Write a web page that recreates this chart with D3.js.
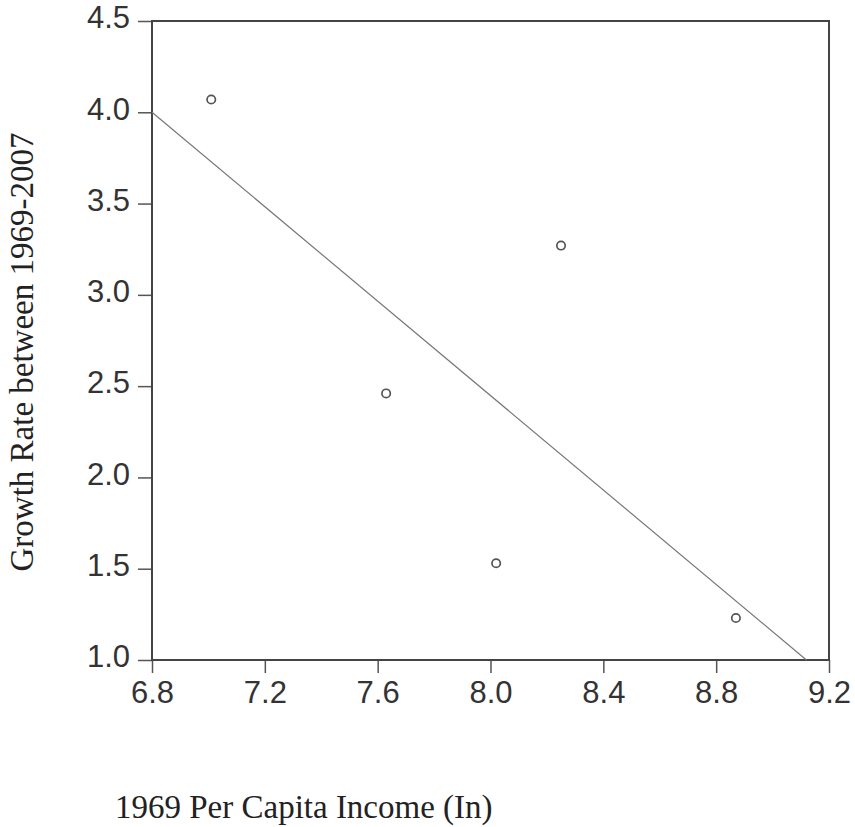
<!DOCTYPE html>
<html>
<head>
<meta charset="utf-8">
<script src="https://cdn.jsdelivr.net/npm/d3@7"></script>
<style>
  body { margin: 0; background: #fff; }
</style>
</head>
<body>
<div id="chart"></div>
<script>
// Data
var incomeLog = [7.01, 7.63, 8.02, 8.25, 8.87];
var growthRate = [4.07, 2.46, 1.53, 3.27, 1.23];
// fitted line, ends as drawn
var fitX = [6.8, 9.12];
var fitY = [4.0, 1.0];
var xTicks = [6.8, 7.2, 7.6, 8.0, 8.4, 8.8, 9.2];
var yTicks = [1.0, 1.5, 2.0, 2.5, 3.0, 3.5, 4.0, 4.5];

var width = 855,
    height = 827,
    margin = {top: 21, right: 25, bottom: 167, left: 152};

var svg = d3.select("#chart")
    .append("svg")
    .attr("width", width)
    .attr("height", height);

var x = d3.scaleLinear()
    .domain([6.8, 9.2])
    .range([margin.left, width - margin.right - 1]);

var y = d3.scaleLinear()
    .domain([1.0, 4.5])
    .range([height - margin.bottom, margin.top]);

// axes
var xAxis = svg.append("g")
    .attr("transform", "translate(0," + (height - margin.bottom) + ")")
    .call(d3.axisBottom(x).tickValues(xTicks).tickFormat(d3.format(".1f")).tickSize(13).tickPadding(8));

var yAxis = svg.append("g")
    .attr("transform", "translate(" + margin.left + ",0)")
    .call(d3.axisLeft(y).tickValues(yTicks).tickFormat(d3.format(".1f")).tickSize(14).tickPadding(8));

[xAxis, yAxis].forEach(function(a) {
    a.select(".domain").remove();
    a.selectAll("line").attr("stroke", "#555").attr("stroke-width", 1.5);
    a.selectAll("text")
        .style("font", "31px 'Liberation Sans', Arial, sans-serif")
        .style("fill", "#333");
});
yAxis.selectAll("text").attr("dy", "0.22em");

// frame
svg.append("rect")
    .attr("x", x(6.8))
    .attr("y", y(4.5))
    .attr("width", x(9.2) - x(6.8))
    .attr("height", y(1.0) - y(4.5))
    .attr("fill", "none")
    .attr("stroke", "#444")
    .attr("stroke-width", 2);

// fitted line
svg.append("line")
    .attr("x1", x(fitX[0]))
    .attr("y1", y(fitY[0]))
    .attr("x2", x(fitX[1]))
    .attr("y2", y(fitY[1]))
    .attr("stroke", "#777")
    .attr("stroke-width", 1.2);

// points
for (let i = 0; i < incomeLog.length; i++) {
    svg.append("circle")
        .attr("cx", x(incomeLog[i]))
        .attr("cy", y(growthRate[i]))
        .attr("r", 4.2)
        .attr("fill", "none")
        .attr("stroke", "#555")
        .attr("stroke-width", 1.7);
}

// axis titles
svg.append("text")
    .attr("x", 115)
    .attr("y", 818)
    .text("1969 Per Capita Income (In)")
    .style("font", "33px 'Liberation Serif', 'Times New Roman', serif")
    .style("fill", "#222");

svg.append("text")
    .attr("transform", "translate(33,352) rotate(-90)")
    .attr("text-anchor", "middle")
    .text("Growth Rate between 1969-2007")
    .style("font", "33px 'Liberation Serif', 'Times New Roman', serif")
    .style("fill", "#222");
</script>
</body>
</html>
